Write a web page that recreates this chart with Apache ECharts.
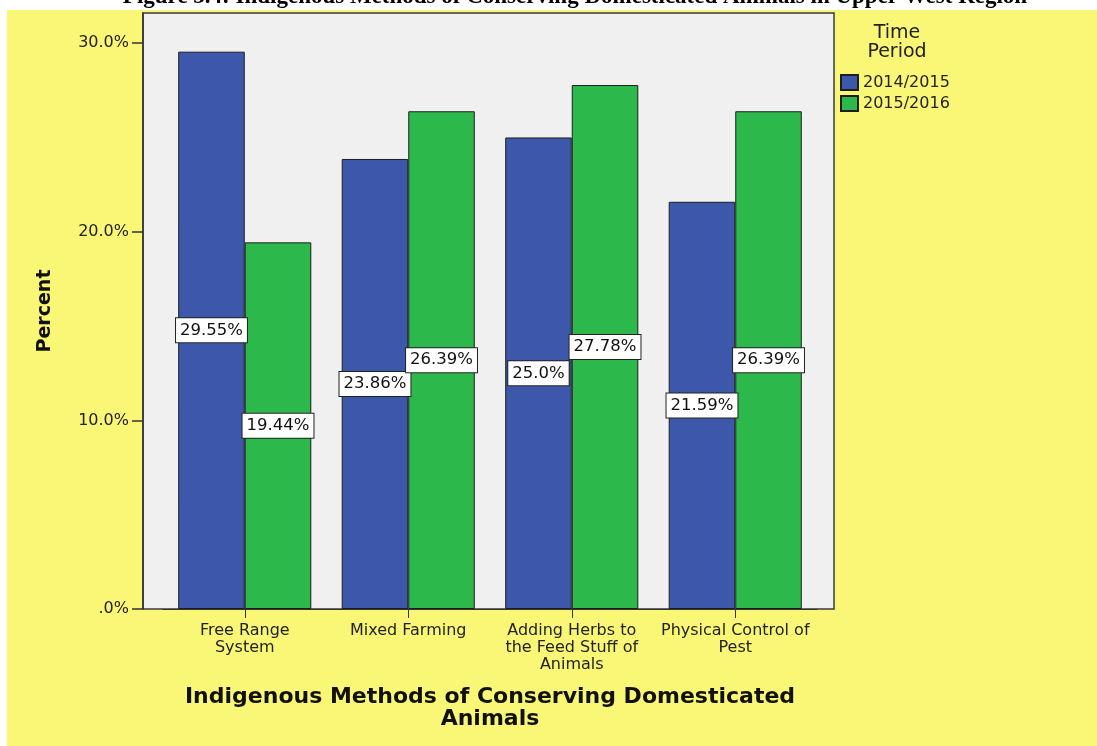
<!DOCTYPE html>
<html>
<head>
<meta charset="utf-8">
<script src="https://cdn.jsdelivr.net/npm/echarts@6/dist/echarts.min.js"></script>
<style>
  html, body { margin: 0; padding: 0; background: #ffffff; }
  #chart { width: 1097px; height: 746px; }
</style>
</head>
<body>
<div id="chart"></div>
<script>
// Indigenous methods of conserving domesticated animals, share of responses by period
const categories = [
  'Free Range\nSystem',
  'Mixed Farming',
  'Adding Herbs to\nthe Feed Stuff of\nAnimals',
  'Physical Control of\nPest'
];
const periods = ['2014/2015', '2015/2016'];
const values2014 = [29.55, 23.86, 25.0, 21.59];
const values2015 = [19.44, 26.39, 27.78, 26.39];
const yTicks = [0, 10, 20, 30];

const FONT = '"DejaVu Sans", Verdana, sans-serif';
const colors = ['#3d57ab', '#2db84c'];

const chart = echarts.init(document.getElementById('chart'), null, { renderer: 'canvas' });

function pctLabel(p) {
  const v = p.value;
  return (Number.isInteger(v) ? v.toFixed(1) : String(v)) + '%';
}

function barSeries(name, data, color) {
  return {
    name: name,
    type: 'bar',
    data: data,
    barGap: '0%',
    barCategoryGap: '18.6%',
    itemStyle: { color: color, borderColor: '#1e1e1e', borderWidth: 1 },
    label: {
      show: true,
      position: 'inside',
      formatter: pctLabel,
      fontFamily: FONT,
      fontSize: 16.5,
      color: '#111',
      backgroundColor: '#ffffff',
      borderColor: '#222',
      borderWidth: 1,
      padding: [4, 4, 3, 4]
    },
    emphasis: { disabled: true }
  };
}

chart.setOption({
  animation: false,
  backgroundColor: 'transparent',
  textStyle: { fontFamily: FONT },
  graphic: [
    // page backdrop and plot frame
    { type: 'rect', z: -20, shape: { x: 7, y: 10, width: 1090, height: 736 }, style: { fill: '#fbf776' } },
    { type: 'rect', z: -10, shape: { x: 143, y: 13, width: 691, height: 596 }, style: { fill: '#f0f0f0', stroke: '#3a3a3a', lineWidth: 1.5 } },
    // figure caption, running off the top edge
    { type: 'text', z: 10, x: 575, y: 9,
      style: { text: 'Figure 3.4: Indigenous Methods of Conserving Domesticated Animals in Upper West Region',
               font: 'bold 23px "Liberation Serif", "Times New Roman", serif', fill: '#000',
               align: 'center', verticalAlign: 'bottom' } },
    // legend heading
    { type: 'text', z: 10, x: 897, y: 24,
      style: { text: 'Time\nPeriod', font: '19px ' + FONT, fill: '#222', align: 'center', lineHeight: 19 } }
  ],
  legend: {
    data: periods,
    orient: 'vertical',
    left: 840,
    top: 74,
    padding: 0,
    icon: 'rect',
    itemWidth: 17,
    itemHeight: 15,
    itemGap: 4,
    selectedMode: false,
    textStyle: { fontFamily: FONT, fontSize: 16, color: '#222' }
  },
  grid: { left: 163, right: 280, top: 13, bottom: 137, containLabel: false },
  xAxis: {
    type: 'category',
    data: categories,
    axisLine: { show: true, lineStyle: { color: '#333', width: 1 } },
    axisTick: { show: true, alignWithLabel: true, length: 9, lineStyle: { color: '#333' } },
    axisLabel: { interval: 0, fontFamily: FONT, fontSize: 16, lineHeight: 17, color: '#222', margin: 13 },
    name: 'Indigenous Methods of Conserving Domesticated\nAnimals',
    nameLocation: 'middle',
    nameGap: 77,
    nameTextStyle: { fontFamily: FONT, fontWeight: 'bold', fontSize: 22, lineHeight: 22, color: '#111' }
  },
  yAxis: {
    type: 'value',
    min: 0,
    max: 31.6,
    offset: 20,
    splitLine: { show: false },
    axisLine: { show: true, lineStyle: { color: '#333', width: 1.5 } },
    axisTick: { show: true, length: 11, customValues: yTicks, lineStyle: { color: '#333', width: 1.5 } },
    axisLabel: {
      customValues: yTicks,
      fontFamily: FONT, fontSize: 16, color: '#222', margin: 14,
      formatter: v => (v === 0 ? '.0%' : v.toFixed(1) + '%')
    },
    name: 'Percent',
    nameLocation: 'middle',
    nameRotate: 90,
    nameGap: 88,
    nameTextStyle: { fontFamily: FONT, fontWeight: 'bold', fontSize: 19, color: '#111' }
  },
  series: [
    barSeries(periods[0], values2014, colors[0]),
    barSeries(periods[1], values2015, colors[1])
  ]
});
</script>
</body>
</html>
